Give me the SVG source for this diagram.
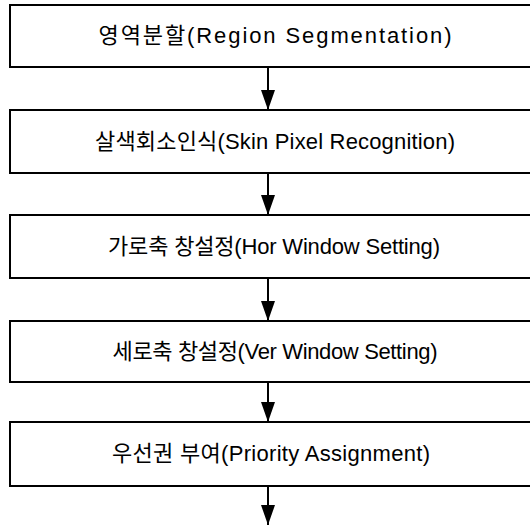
<svg xmlns="http://www.w3.org/2000/svg" width="530" height="527" viewBox="0 0 530 527">
<defs>
<style>
.box{fill:#fff;stroke:#000;stroke-width:2}
.lbl{font-family:"Liberation Sans","Noto Sans CJK KR",sans-serif;font-size:22px;fill:#000;text-anchor:middle}
.con{stroke:#000;stroke-width:2;fill:none}
</style>
<marker id="ah" markerUnits="userSpaceOnUse" viewBox="0 0 20 14" markerWidth="20" markerHeight="14" refX="20" refY="7" orient="auto">
<path d="M0,0 L20,7 L0,14 z" fill="#000"/>
</marker>
</defs>
<rect width="530" height="527" fill="#fff"/>
<g id="connectors">
<line class="con" x1="268" y1="67" x2="268" y2="110" marker-end="url(#ah)"/>
<line class="con" x1="268" y1="173" x2="268" y2="215" marker-end="url(#ah)"/>
<line class="con" x1="268" y1="278" x2="268" y2="321" marker-end="url(#ah)"/>
<line class="con" x1="268" y1="382" x2="268" y2="422" marker-end="url(#ah)"/>
<line class="con" x1="268" y1="486" x2="268" y2="525" marker-end="url(#ah)"/>
</g>
<g id="n1">
<rect class="box" x="10" y="5" width="530" height="62"/>
<text class="lbl" x="275" y="43" textLength="353" lengthAdjust="spacing">영역분할(Region Segmentation)</text>
</g>
<g id="n2">
<rect class="box" x="10" y="110" width="530" height="63"/>
<text class="lbl" x="275" y="149" textLength="360" lengthAdjust="spacing">살색회소인식(Skin Pixel Recognition)</text>
</g>
<g id="n3">
<rect class="box" x="10" y="215" width="530" height="63"/>
<text class="lbl" x="274" y="254" textLength="332" lengthAdjust="spacing">가로축 창설정(Hor Window Setting)</text>
</g>
<g id="n4">
<rect class="box" x="10" y="321" width="530" height="61"/>
<text class="lbl" x="275" y="359" textLength="325" lengthAdjust="spacing">세로축 창설정(Ver Window Setting)</text>
</g>
<g id="n5">
<rect class="box" x="10" y="422" width="530" height="64"/>
<text class="lbl" x="271" y="461" textLength="318" lengthAdjust="spacing">우선권 부여(Priority Assignment)</text>
</g>
</svg>
